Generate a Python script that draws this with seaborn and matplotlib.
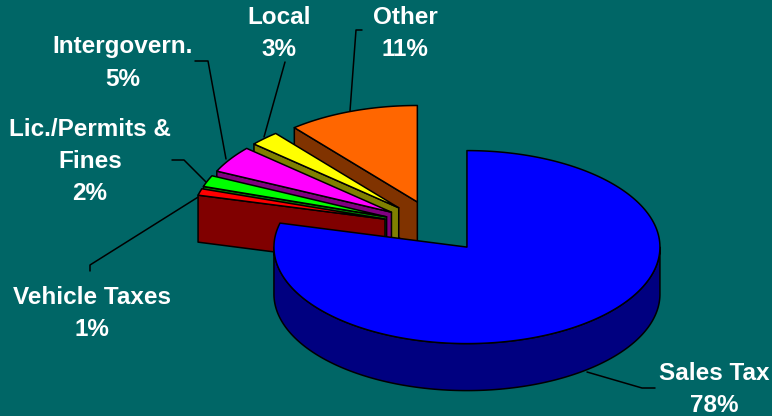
import numpy as np
import matplotlib
matplotlib.use("Agg")
import matplotlib.pyplot as plt
import seaborn as sns

# slices counter-clockwise from 12 o'clock
categories = ["Other", "Local", "Intergovern.", "Lic./Permits &\nFines", "Vehicle Taxes", "Sales Tax"]
label_pct = [11, 3, 5, 2, 1, 78]
# slice sizes as drawn in the picture (3-D view skews them a little from the labels)
drawn_share = [11.0, 2.5, 4.5, 1.9, 1.1, 79.0]
top_colors = ["#FF6600", "#FFFF00", "#FF00FF", "#00FF00", "#FF0000", "#0000FF"]
wall_colors = ["#803300", "#808000", "#800080", "#008000", "#800000", "#000080"]
BG = "#006666"

sns.set_theme(style="white", rc={"axes.facecolor": BG, "figure.facecolor": BG})
plt.rcParams["font.family"] = ["Liberation Sans", "DejaVu Sans"]

fig = plt.figure(figsize=(7.72, 4.16), dpi=100)
ax = fig.add_axes([0, 0, 1, 1])
ax.set_xlim(0, 772)
ax.set_ylim(416, 0)
ax.set_axis_off()

OX, OY, RX, RY, DEPTH, EXPLODE = 435, 226.5, 193, 96.5, 47, 0.27
LW = 1.1


def rim(cx, cy, a0, a1, dy=0.0):
    t = np.radians(np.linspace(a0, a1, max(int(abs(a1 - a0)) * 2, 2)))
    return np.c_[cx - RX * np.sin(t), cy + dy - RY * np.cos(t)]


def poly(pts, color, z):
    ax.fill(pts[:, 0], pts[:, 1], facecolor=color, edgecolor="black",
            linewidth=LW, joinstyle="round", zorder=z)


edges = np.r_[0, np.cumsum(drawn_share)] / np.sum(drawn_share) * 360
for i, (a0, a1) in enumerate(zip(edges[:-1], edges[1:])):
    mid = np.radians((a0 + a1) / 2)
    cx = OX - RX * EXPLODE * np.sin(mid)
    cy = OY - RY * EXPLODE * np.cos(mid)
    z = 2 + i
    # cut face on the lower edge of the west-side slices
    if a1 < 180:
        end = rim(cx, cy, a1, a1, 0)[0]
        face = np.array([[cx, cy], end, end + [0, DEPTH], [cx, cy + DEPTH]])
        poly(face, wall_colors[i], z)
    # outer wall where the rim faces the viewer
    w0, w1 = max(a0, 90), min(a1, 270)
    if w1 > w0:
        upper = rim(cx, cy, w0, w1)
        lower = rim(cx, cy, w0, w1, DEPTH)[::-1]
        poly(np.r_[upper, lower], wall_colors[i], z)
    # top surface
    poly(np.r_[[[cx, cy]], rim(cx, cy, a0, a1)], top_colors[i], z)

leaders = [
    [(362, 30), (356, 30), (350, 111)],
    [(285, 62), (264, 137)],
    [(195, 61), (208, 61), (226, 159)],
    [(172, 160), (184, 160), (206, 182)],
    [(90, 271), (90, 265), (203, 194)],
    [(655, 388), (642, 388), (587, 372)],
]
for line in leaders:
    xy = np.array(line)
    ax.plot(xy[:, 0], xy[:, 1], color="black", linewidth=LW, zorder=1)

label_pos = [(405, 34), (279, 34), (123, 63), (90, 162), (92, 313), (714, 389)]
for name, pct, (x, y) in zip(categories, label_pct, label_pos):
    ax.text(x, y, f"{name}\n{pct}%", color="white", fontsize=17.5, fontweight="bold",
            ha="center", va="center", linespacing=1.5, zorder=20)

fig.savefig("out.png", dpi=100, facecolor=BG)
